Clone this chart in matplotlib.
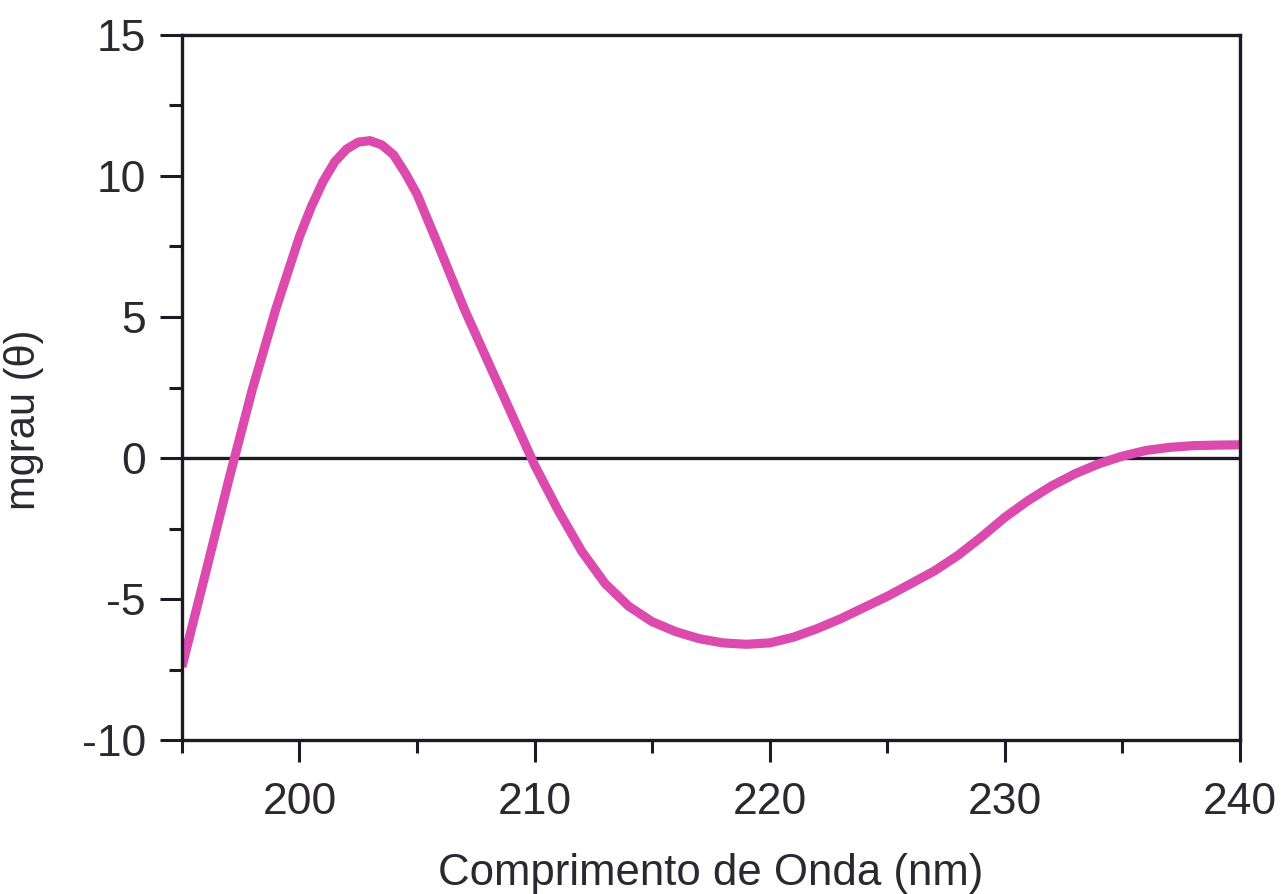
import matplotlib.pyplot as plt
from matplotlib.ticker import MultipleLocator

plt.rcParams['font.family'] = ['Liberation Sans', 'DejaVu Sans']
plt.rcParams['axes.unicode_minus'] = False

# CD spectrum
wavelength = [195, 196, 197, 198, 199, 200, 200.5, 201, 201.5, 202, 202.5, 203, 203.5, 204,
              204.5, 205, 206, 207, 208, 209, 210, 211, 212, 213, 214, 215, 216, 217,
              218, 219, 220, 221, 222, 223, 224, 225, 226, 227, 228, 229, 230, 231,
              232, 233, 234, 235, 236, 237, 238, 239, 240]
mdeg = [-7.4, -4.1, -0.75, 2.45, 5.3, 7.85, 8.9, 9.8, 10.5, 10.95, 11.2, 11.25, 11.1, 10.75,
        10.1, 9.35, 7.35, 5.3, 3.45, 1.6, -0.25, -1.85, -3.3, -4.45, -5.25, -5.8, -6.15, -6.4,
        -6.55, -6.6, -6.55, -6.35, -6.05, -5.7, -5.3, -4.9, -4.45, -4.0, -3.45, -2.8, -2.1, -1.5,
        -0.98, -0.55, -0.2, 0.07, 0.27, 0.38, 0.44, 0.46, 0.47]

fig = plt.figure(figsize=(12.81, 8.94), dpi=100)
ax = fig.add_axes([0.142, 0.172, 0.826, 0.789])

# zero line
ax.axhline(0, color='#1e1a24', linewidth=2.4, zorder=1)
# the spectrum
ax.plot(wavelength, mdeg, color='#dc4aad', linewidth=6.6, solid_joinstyle='round',
        solid_capstyle='butt', zorder=2)

ax.set_xlim(195, 240)
ax.set_ylim(-10, 15)
ax.xaxis.set_major_locator(MultipleLocator(10))
ax.xaxis.set_minor_locator(MultipleLocator(5))
ax.yaxis.set_major_locator(MultipleLocator(5))
ax.yaxis.set_minor_locator(MultipleLocator(2.5))

for s in ax.spines.values():
    s.set_linewidth(2.4)
    s.set_color('#1e1a24')

ax.tick_params(which='major', direction='out', length=16, width=2.2, color='#1e1a24',
               labelsize=32, labelcolor='#2b2830')
ax.tick_params(axis='x', which='major', pad=14)
ax.tick_params(axis='y', which='major', pad=10)
ax.tick_params(which='minor', direction='out', length=9.5, width=2.2, color='#1e1a24')

ax.set_xlabel('Comprimento de Onda (nm)', fontsize=31.5, color='#2b2830', labelpad=22)
ax.set_ylabel('mgrau (θ)', fontsize=30, color='#2b2830')
ax.yaxis.set_label_coords(-0.130, 0.455)

fig.savefig('out.png', dpi=100)
